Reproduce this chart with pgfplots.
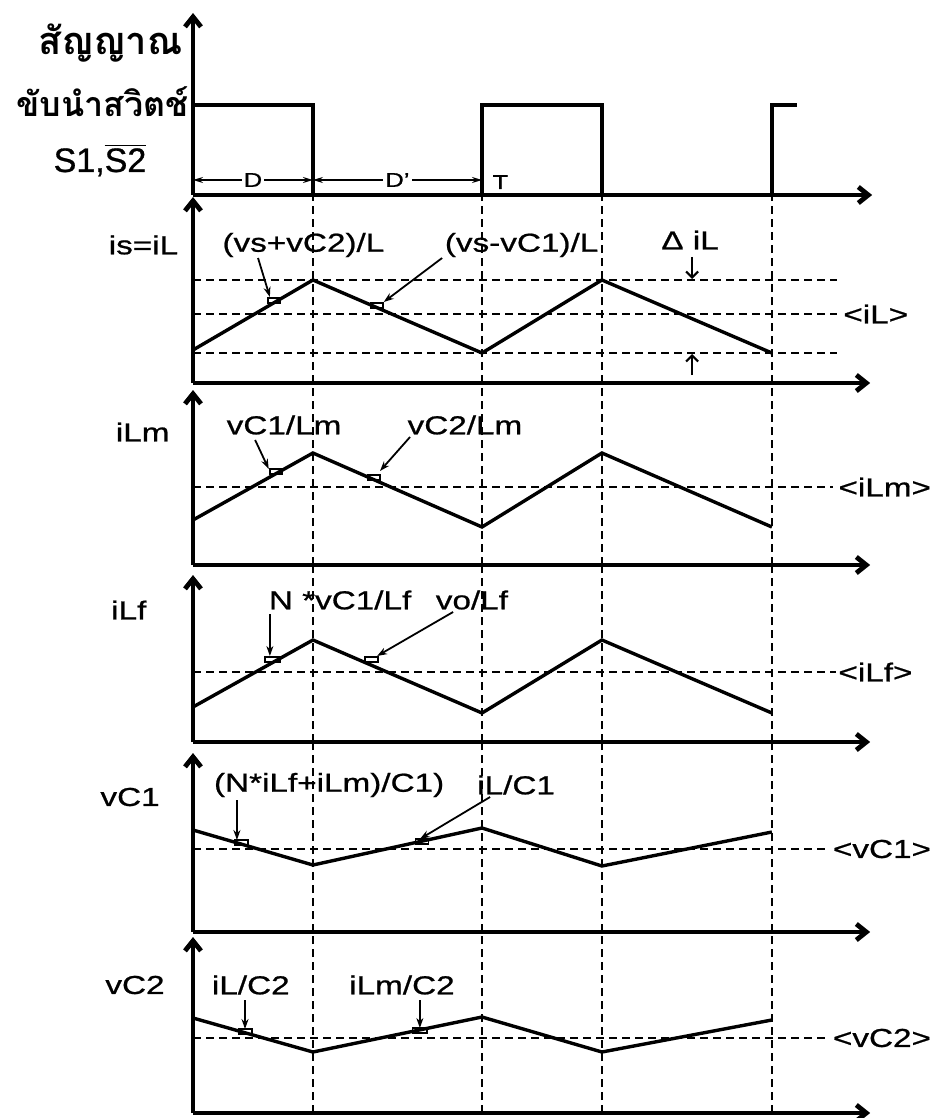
\documentclass[border=0pt]{standalone}
\usepackage{pgfplots}
\pgfplotsset{compat=1.18}
\usepackage{fontspec}
\setmainfont{Liberation Sans}[FakeStretch=1.28, FakeBold=0.8]
\newfontfamily\thaifont[Script=Thai]{Loma}
\newfontfamily\plainsans{Liberation Sans}[FakeBold=0.8]
\usetikzlibrary{arrows.meta}
\newcommand\lbl{\fontsize{13pt}{15pt}\selectfont}
\tikzset{
 ax/.style={line width=2.4pt, -{Straight Barb[length=5pt,width=8pt]}},
 wave/.style={line width=1.7pt, line join=miter},
 guide/.style={line width=0.9pt, dash pattern=on 4pt off 2.5pt},
 ann/.style={line width=0.9pt, -{Stealth[length=5pt,width=3.5pt]}},
 mk/.style={line width=0.8pt},
 dim/.style={line width=0.7pt, {Stealth[length=5pt,width=3pt]}-{Stealth[length=5pt,width=3pt]}},
 barb/.style={line width=1.1pt, -{Straight Barb[length=3pt,width=6pt]}},
}
\pgfplotsset{panel/.style={
  anchor=south west, x=144.5pt, y=0.5pt, xmin=0, xmax=2.343, ymin=0,
  axis lines*=left, axis line style={ax}, xtick=\empty, ytick=\empty,
  enlargelimits=false, clip=false,
}}
\begin{document}
\begin{tikzpicture}[every node/.append style={font=\lbl}]
\path[use as bounding box] (0,0) rectangle (467.5pt,-559pt);
% titles
\node[anchor=base east, inner sep=0pt, font={\thaifont\bfseries\fontsize{19pt}{21pt}\selectfont}] at (91.5pt,-27.5pt) {สัญญาณ};
\node[anchor=base east, inner sep=0pt, font={\thaifont\bfseries\fontsize{17pt}{19pt}\selectfont}] at (94.5pt,-58.5pt) {ขับนำสวิตช์};
\node[anchor=base, inner sep=0pt, font={\plainsans\fontsize{17pt}{19pt}\selectfont}] at (50pt,-86pt) {S1,$\overline{\mbox{S2}}$};

% ---------- Panel 1: switch signal
\begin{axis}[panel, at={(96.5pt,-97.5pt)}, ymax=182, xmax=2.35]
\addplot[wave, line width=1.8pt] coordinates {(0,0)(0,90)(0.415,90)(0.415,0)(1,0)(1,90)(1.415,90)(1.415,0)(2.003,0)(2.003,90)(2.09,90)};
\draw[dim] (axis cs:0,15) -- (axis cs:0.415,15) node[midway, fill=white, inner sep=1pt, font=\fontsize{10pt}{12pt}\selectfont]{D};
\draw[dim] (axis cs:0.415,15) -- (axis cs:1,15) node[midway, fill=white, inner sep=1pt, font=\fontsize{10pt}{12pt}\selectfont]{D'};
\node[anchor=base west, inner sep=0pt, font=\fontsize{10pt}{12pt}\selectfont] at (axis cs:1.035,6) {T};
\end{axis}

% ---------- Panel 2: is = iL
\begin{axis}[panel, at={(96.5pt,-191.5pt)}, ymax=186]
\draw[guide] (axis cs:0.415,0) -- (axis cs:0.415,188);
\draw[guide] (axis cs:1,0) -- (axis cs:1,188);
\draw[guide] (axis cs:1.415,0) -- (axis cs:1.415,188);
\draw[guide] (axis cs:2.003,0) -- (axis cs:2.003,188);
\draw[guide] (axis cs:0,103) -- (axis cs:2.228,103);
\draw[guide] (axis cs:0,69) -- (axis cs:2.228,69);
\draw[guide] (axis cs:0,30) -- (axis cs:2.228,30);
\addplot[wave] coordinates {(0,33)(0.415,103)(1,30)(1.415,103)(2.003,30)};
\node[anchor=east, inner sep=0pt] at (axis cs:-0.05,138) {is=iL};
\node[inner sep=0pt] at (axis cs:0.382,138) {(vs+vC2)/L};
\node[inner sep=0pt] at (axis cs:1.137,138) {(vs-vC1)/L};
\draw[ann] (axis cs:0.225,125) -- (axis cs:0.266,86);
\draw[mk] (axis cs:0.259,80) rectangle (axis cs:0.3,85);
\draw[ann] (axis cs:0.862,125) -- (axis cs:0.66,81);
\draw[mk] (axis cs:0.616,75) rectangle (axis cs:0.657,80);
\node[inner sep=0pt] at (axis cs:1.72,143) {Δ iL};
\draw[barb] (axis cs:1.727,126) -- (axis cs:1.727,104);
\draw[barb] (axis cs:1.727,8) -- (axis cs:1.727,29);
\node[anchor=west, inner sep=0pt] at (axis cs:2.249,69) {<iL>};
\end{axis}

% ---------- Panel 3: iLm
\begin{axis}[panel, at={(96.5pt,-282.5pt)}, ymax=175]
\draw[guide] (axis cs:0.415,0) -- (axis cs:0.415,182);
\draw[guide] (axis cs:1,0) -- (axis cs:1,182);
\draw[guide] (axis cs:1.415,0) -- (axis cs:1.415,182);
\draw[guide] (axis cs:2.003,0) -- (axis cs:2.003,182);
\draw[guide] (axis cs:0,78) -- (axis cs:2.215,78);
\addplot[wave] coordinates {(0,45)(0.415,112)(1,38)(1.415,112)(2.003,38)};
\node[anchor=east, inner sep=0pt] at (axis cs:-0.08,133) {iLm};
\node[inner sep=0pt] at (axis cs:0.315,140) {vC1/Lm};
\node[inner sep=0pt] at (axis cs:0.941,140) {vC2/Lm};
\draw[ann] (axis cs:0.215,125) -- (axis cs:0.262,96);
\draw[mk] (axis cs:0.266,91) rectangle (axis cs:0.308,96);
\draw[ann] (axis cs:0.751,128) -- (axis cs:0.647,94);
\draw[mk] (axis cs:0.606,85) rectangle (axis cs:0.647,90);
\node[anchor=east, inner sep=0pt] at (axis cs:2.555,78) {<iLm>};
\end{axis}

% ---------- Panel 4: iLf
\begin{axis}[panel, at={(96.5pt,-371pt)}, ymax=167]
\draw[guide] (axis cs:0.415,0) -- (axis cs:0.415,177);
\draw[guide] (axis cs:1,0) -- (axis cs:1,177);
\draw[guide] (axis cs:1.415,0) -- (axis cs:1.415,177);
\draw[guide] (axis cs:2.003,0) -- (axis cs:2.003,177);
\draw[guide] (axis cs:0,70) -- (axis cs:2.225,70);
\addplot[wave] coordinates {(0,35)(0.415,102)(1,29)(1.415,102)(2.003,29)};
\node[anchor=east, inner sep=0pt] at (axis cs:-0.16,132) {iLf};
\node[inner sep=0pt] at (axis cs:0.509,142) {N *vC1/Lf};
\node[inner sep=0pt] at (axis cs:0.965,142) {vo/Lf};
\draw[ann] (axis cs:0.266,128) -- (axis cs:0.266,86);
\draw[mk] (axis cs:0.25,80) rectangle (axis cs:0.3,85);
\draw[ann] (axis cs:0.9,130) -- (axis cs:0.637,86);
\draw[mk] (axis cs:0.595,80) rectangle (axis cs:0.64,85);
\node[anchor=west, inner sep=0pt] at (axis cs:2.232,70) {<iLf>};
\end{axis}

% ---------- Panel 5: vC1
\begin{axis}[panel, at={(96.5pt,-466pt)}, ymax=179]
\draw[guide] (axis cs:0.415,0) -- (axis cs:0.415,190);
\draw[guide] (axis cs:1,0) -- (axis cs:1,190);
\draw[guide] (axis cs:1.415,0) -- (axis cs:1.415,190);
\draw[guide] (axis cs:2.003,0) -- (axis cs:2.003,190);
\draw[guide] (axis cs:0,83) -- (axis cs:2.2,83);
\addplot[wave] coordinates {(0,102)(0.415,67)(1,104)(1.415,66)(2.003,100)};
\node[anchor=east, inner sep=0pt] at (axis cs:-0.114,135) {vC1};
\node[inner sep=0pt] at (axis cs:0.471,147) {(N*iLf+iLm)/C1)};
\node[inner sep=0pt] at (axis cs:1.118,147) {iL/C1};
\draw[ann] (axis cs:0.152,132) -- (axis cs:0.152,92);
\draw[mk] (axis cs:0.145,87) rectangle (axis cs:0.19,92);
\draw[ann] (axis cs:1.028,135) -- (axis cs:0.785,93);
\draw[mk] (axis cs:0.77,88) rectangle (axis cs:0.815,93);
\node[anchor=east, inner sep=0pt] at (axis cs:2.555,83) {<vC1>};
\end{axis}

% ---------- Panel 6: vC2
\begin{axis}[panel, at={(96.5pt,-556.5pt)}, ymax=176]
\draw[guide] (axis cs:0.415,0) -- (axis cs:0.415,181);
\draw[guide] (axis cs:1,0) -- (axis cs:1,181);
\draw[guide] (axis cs:1.415,0) -- (axis cs:1.415,181);
\draw[guide] (axis cs:2.003,0) -- (axis cs:2.003,181);
\draw[guide] (axis cs:0,75) -- (axis cs:2.2,75);
\addplot[wave] coordinates {(0,95)(0.415,61)(1,96)(1.415,61)(2.003,93)};
\node[anchor=east, inner sep=0pt] at (axis cs:-0.097,128) {vC2};
\node[inner sep=0pt] at (axis cs:0.2,128) {iL/C2};
\node[inner sep=0pt] at (axis cs:0.723,128) {iLm/C2};
\draw[ann] (axis cs:0.18,113) -- (axis cs:0.18,84);
\draw[mk] (axis cs:0.158,79) rectangle (axis cs:0.204,84);
\draw[ann] (axis cs:0.785,113) -- (axis cs:0.785,85);
\draw[mk] (axis cs:0.76,80) rectangle (axis cs:0.81,85);
\node[anchor=east, inner sep=0pt] at (axis cs:2.555,75) {<vC2>};
\end{axis}
\end{tikzpicture}
\end{document}
